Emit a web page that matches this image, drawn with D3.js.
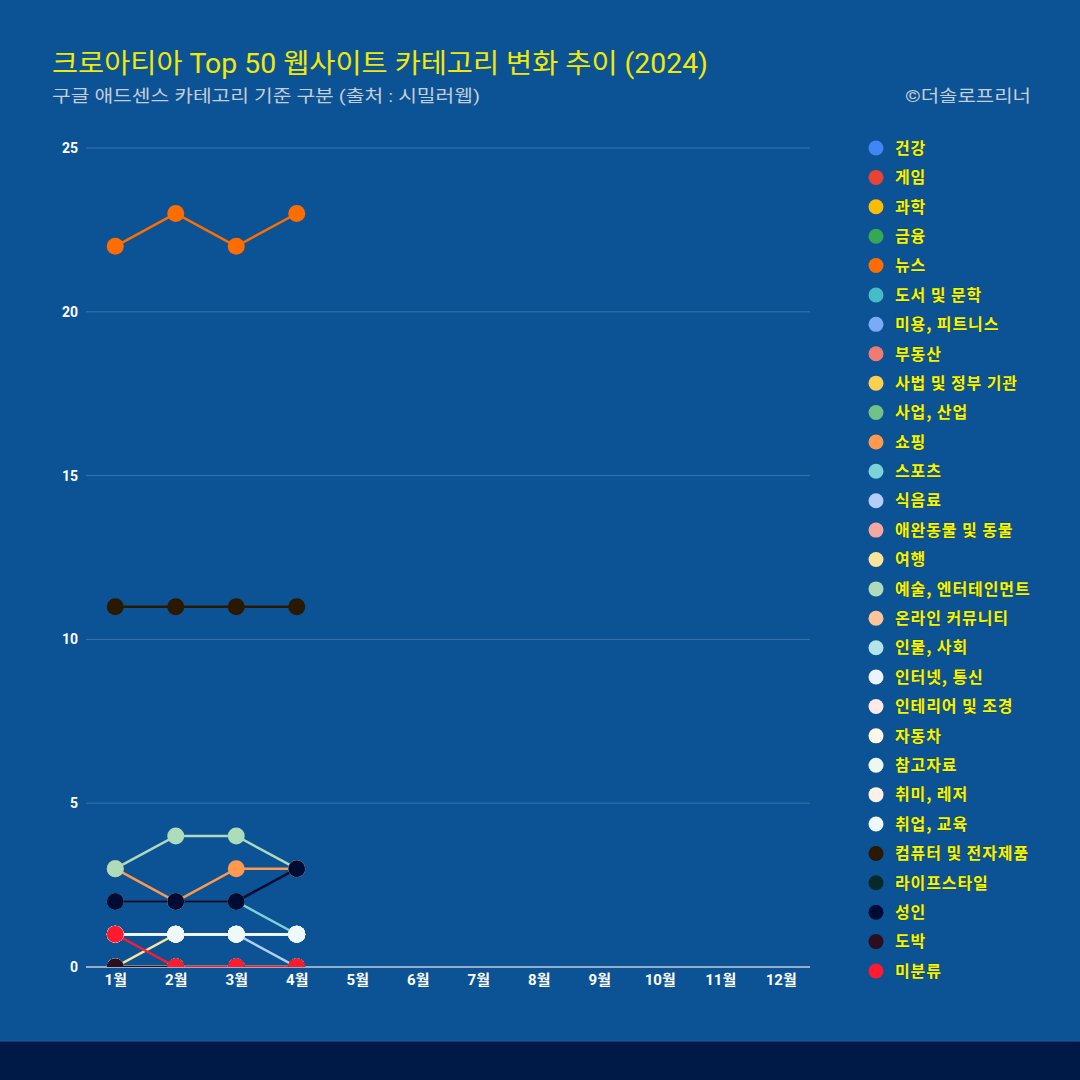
<!DOCTYPE html>
<html><head><meta charset="utf-8">
<script src="https://cdn.jsdelivr.net/npm/d3@7"></script>
<style>
html,body{margin:0;padding:0;background:#0c5395;}
svg{display:block;font-family:"Noto Sans CJK KR","Noto Sans",sans-serif;}
</style></head><body>
<svg id="c" width="1080" height="1080"></svg>
<script>
const months = ["1월","2월","3월","4월","5월","6월","7월","8월","9월","10월","11월","12월"];
const yTicks = [0,5,10,15,20,25];
const categories = ["건강","게임","과학","금융","뉴스","도서 및 문학","미용, 피트니스","부동산","사법 및 정부 기관","사업, 산업","쇼핑","스포츠","식음료","애완동물 및 동물","여행","예술, 엔터테인먼트","온라인 커뮤니티","인물, 사회","인터넷, 통신","인테리어 및 조경","자동차","참고자료","취미, 레저","취업, 교육","컴퓨터 및 전자제품","라이프스타일","성인","도박","미분류"];
const colors = ["#4285f4","#ea4335","#fbbc04","#34a853","#ff6d01","#46bdc6","#7baaf7","#f07b72","#fcd04f","#71c287","#ff994d","#7ed1d7","#b3cefb","#f7a7a1","#fde49b","#aedcba","#ffc599","#b5e3e7","#ecf3fe","#fde9e8","#fff8e6","#eef8f1","#fff0e6","#f0f9fa","#2b1800","#07292a","#000b33","#2d0e1f","#ff1a2e"];
const values = [
 [0,0,0,0],[0,0,0,0],[0,0,0,0],[0,0,0,0],
 [22,23,22,23],
 [0,0,0,0],[0,0,0,0],[0,0,0,0],[0,0,0,0],[0,0,0,0],
 [3,2,3,3],
 [2,2,2,1],
 [1,1,1,0],
 [0,0,0,0],
 [0,1,1,1],
 [3,4,4,3],
 [0,0,0,0],[0,0,0,0],
 [1,1,1,1],
 [0,0,0,0],[0,0,0,0],
 [1,1,1,1],[1,1,1,1],[1,1,1,1],
 [11,11,11,11],
 [0,0,0,0],
 [2,2,2,3],
 [0,0,0,0],
 [1,0,0,0]
];

const svg = d3.select("#c");
svg.append("rect").attr("width",1080).attr("height",1080).attr("fill","#0c5395");
svg.append("rect").attr("x",0).attr("y",1041).attr("width",1080).attr("height",39).attr("fill","#001a47");
svg.append("line").attr("x1",0).attr("x2",1080).attr("y1",1041).attr("y2",1041).attr("stroke","#1d5f9e").attr("stroke-width",1);

const F = "Roboto,'Noto Sans CJK KR',sans-serif";
svg.append("text").attr("x",52).attr("y",73).attr("fill","#f2ea05").attr("font-size",27).attr("font-family",F)
  .attr("textLength",656).attr("lengthAdjust","spacingAndGlyphs")
  .text("크로아티아 Top 50 웹사이트 카테고리 변화 추이 (2024)");
svg.append("text").attr("x",52).attr("y",102).attr("fill","#c5cdd8").attr("font-size",17).attr("font-family",F)
  .attr("textLength",428).attr("lengthAdjust","spacingAndGlyphs")
  .text("구글 애드센스 카테고리 기준 구분 (출처 : 시밀러웹)");
svg.append("text").attr("x",905).attr("y",102).attr("fill","#c5cdd8").attr("font-size",17).attr("font-family",F)
  .attr("textLength",126).attr("lengthAdjust","spacingAndGlyphs")
  .text("©더솔로프리너");

const x = d3.scalePoint().domain(months).range([85,811]).padding(0.5);
const y = d3.scaleLinear().domain([0,25]).range([967,148]);

svg.append("defs").append("clipPath").attr("id","plot")
  .append("rect").attr("x",80).attr("y",120).attr("width",740).attr("height",y(0)-120);

// grid
const g = svg.append("g");
g.selectAll("line.grid").data(yTicks.filter(d=>d>0)).join("line")
  .attr("x1",86).attr("x2",810).attr("y1",d=>y(d)).attr("y2",d=>y(d))
  .attr("stroke","#3b73ab").attr("stroke-width",1);
g.append("line").attr("x1",86).attr("x2",810).attr("y1",y(0)).attr("y2",y(0)).attr("stroke","#c3cbd8").attr("stroke-width",1.5);

const yAxis = d3.axisLeft(y).tickValues(yTicks).tickSize(0).tickPadding(0);
const ya = svg.append("g").attr("transform","translate(78,0)").call(yAxis);
ya.select(".domain").remove();
ya.selectAll("text").attr("fill","#ffffff").attr("font-size",14).attr("font-weight","bold").attr("font-family","Roboto,sans-serif");

const xAxis = d3.axisBottom(x).tickSize(0).tickPadding(7);
const xa = svg.append("g").attr("transform",`translate(0,${y(0)})`).call(xAxis);
xa.select(".domain").remove();
xa.selectAll("text").attr("fill","#ffffff").attr("font-size",15).attr("font-weight","bold").attr("font-family",F);

const plot = svg.append("g").attr("clip-path","url(#plot)");
const line = d3.line().x((d,i)=>x(months[i])).y(d=>y(d));
categories.forEach((c,ci)=>{
  plot.append("path").attr("d",line(values[ci])).attr("fill","none").attr("stroke",colors[ci]).attr("stroke-width",2.5);
});
categories.forEach((c,ci)=>{
  plot.append("g").selectAll("circle").data(values[ci]).join("circle")
    .attr("cx",(d,i)=>x(months[i])).attr("cy",d=>y(d)).attr("r",8.5)
    .attr("fill",colors[ci]);
});

// legend
const lg = svg.append("g");
const ly = d3.scalePoint().domain(categories).range([148,971]);
categories.forEach((c,ci)=>{
  lg.append("circle").attr("cx",876).attr("cy",ly(c)).attr("r",7.5).attr("fill",colors[ci]);
  lg.append("text").attr("x",895).attr("y",ly(c)).attr("dy","0.36em").attr("fill","#f5f500")
    .attr("font-size",16).attr("font-weight","bold").attr("letter-spacing",0.9)
    .attr("stroke","#2a3a20").attr("stroke-width",0.6).attr("paint-order","stroke")
    .text(c);
});
</script>
</body></html>
